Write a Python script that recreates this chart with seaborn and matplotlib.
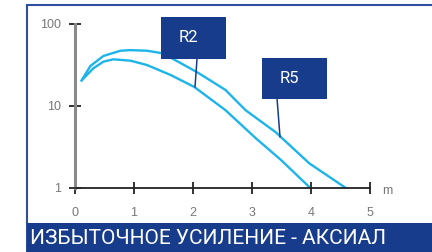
import numpy as np
import pandas as pd
import matplotlib
matplotlib.use("Agg")
import matplotlib.pyplot as plt
import seaborn as sns
from matplotlib.patches import Rectangle

# values (distance in m, gain on log scale)
r5_x = [0.11, 0.26, 0.48, 0.77, 0.94, 1.22, 1.48, 1.79, 2.09, 2.55, 2.89, 3.40, 3.97, 4.59]
r5_y = [20.4, 30.7, 40.7, 47.2, 48.0, 47.2, 44.0, 33.4, 25.3, 15.7, 8.9, 4.8, 2.0, 1.0]
r2_x = [0.11, 0.31, 0.48, 0.65, 0.94, 1.22, 1.62, 2.02, 2.55, 3.06, 3.49, 3.97]
r2_y = [20.4, 28.8, 34.7, 37.1, 35.7, 31.6, 23.9, 17.1, 8.9, 4.07, 2.2, 1.03]
x_ticks = [0, 1, 2, 3, 4, 5]
y_ticks = [1, 10, 100]
title = "ИЗБЫТОЧНОЕ УСИЛЕНИЕ - АКСИАЛ"

df = pd.concat([
    pd.DataFrame({"x": r5_x, "y": r5_y, "s": "R5"}),
    pd.DataFrame({"x": r2_x, "y": r2_y, "s": "R2"}),
])

sns.set_style("white")
plt.rcParams["font.family"] = ["Liberation Sans", "DejaVu Sans"]

blue = "#173c8c"
cyan = "#1db4ea"

fig = plt.figure(figsize=(4.32, 2.52), dpi=100)
ax = fig.add_axes([75 / 432, 64 / 252, 295 / 432, 164 / 252])

sns.lineplot(data=df, x="x", y="y", hue="s", palette={"R5": cyan, "R2": cyan},
             linewidth=1.7, legend=False, ax=ax, estimator=None, sort=False)

ax.set_yscale("log")
ax.set_xlim(0, 5)
ax.set_ylim(1, 100)
ax.set_xticks(x_ticks)
ax.set_xticklabels([str(t) for t in x_ticks])
ax.set_yticks(y_ticks)
ax.set_yticklabels([str(t) for t in y_ticks])
ax.minorticks_off()
ax.set_xlabel("")
ax.set_ylabel("")

for s in ["top", "right"]:
    ax.spines[s].set_visible(False)
ax.spines["left"].set_color("#8a8a8a")
ax.spines["left"].set_linewidth(2.2)
ax.spines["bottom"].set_color("#222222")
ax.spines["bottom"].set_linewidth(1.3)
ax.tick_params(axis="x", bottom=True, direction="inout", length=8, width=1.3, color="#222222",
               labelcolor="#777777", labelsize=9, pad=10)
ax.tick_params(axis="y", left=True, direction="inout", length=8, width=1.3, color="#222222",
               labelcolor="#777777", labelsize=9, pad=6)
ax.text(1.06, -0.02, "m", transform=ax.transAxes, color="#777777", fontsize=9,
        ha="center", va="center")

# label boxes with leader lines
for x0, x1, y0, y1, lab, lx0, ly0, lx1, ly1 in [
    (0.2915, 0.512, 0.787, 1.043, "R2", 0.4136, 0.787, 0.4068, 0.616),
    (0.634, 0.854, 0.543, 0.793, "R5", 0.685, 0.543, 0.695, 0.311),
]:
    ax.add_patch(Rectangle((x0, y0), x1 - x0, y1 - y0, transform=ax.transAxes,
                           facecolor=blue, edgecolor="none", clip_on=False, zorder=5))
    ax.text(x0 + (x1 - x0) * 0.42, (y0 + y1) / 2, lab, transform=ax.transAxes,
            color="white", fontsize=12, ha="center", va="center", zorder=6,
            family=["Roboto", "DejaVu Sans"])
    ax.plot([lx0, lx1], [ly0, ly1], transform=ax.transAxes, color=blue,
            linewidth=1.1, clip_on=False, zorder=4)

# outer frame and bottom banner
fig.patches.append(Rectangle((27 / 432, 0), 1, 1 - 5 / 252, transform=fig.transFigure,
                             facecolor="none", edgecolor="#2e4e9e", linewidth=1.5))
fig.patches.append(Rectangle((27 / 432, 0), 1, 29 / 252, transform=fig.transFigure,
                             facecolor=blue, edgecolor="none"))
fig.text(30 / 432, 14 / 252, title, color="white", fontsize=15, ha="left", va="center",
         family=["Roboto", "DejaVu Sans"])

fig.savefig("out.png", dpi=100)
